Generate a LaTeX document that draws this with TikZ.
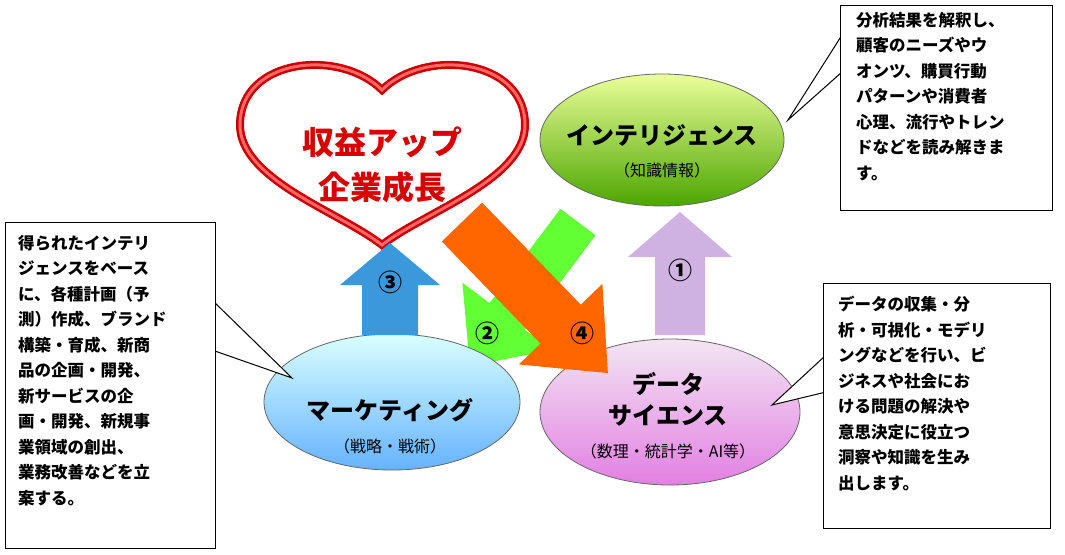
\documentclass[tikz,border=0pt]{standalone}
\usepackage{fontspec}
\setmainfont{Noto Sans CJK JP}
\begin{document}
\begin{tikzpicture}[x=1pt,y=-1pt,
  ell/.style={draw=black!60,line width=0.8pt},
  note/.style={draw=black,fill=white,line width=1pt},
  ntxt/.style={anchor=north west,align=left,font=\fontsize{16.5}{25.5}\selectfont\bfseries,inner sep=0pt},
  big/.style={font=\fontsize{24}{28}\selectfont\bfseries},
  small/.style={font=\fontsize{16}{20}\selectfont},
  num/.style={font=\fontsize{24}{24}\selectfont\bfseries}]
\useasboundingbox (0,0) rectangle (1065,554);
\newcommand{\fatarr}[8]{% x y angle len w h L color
  \begin{scope}[shift={(#1,#2)},rotate=#3]
  \fill[#8] (0,-#5)--(#4-#7,-#5)--(#4-#7,-#6)--(#4,0)--(#4-#7,#6)--(#4-#7,#5)--(0,#5)--cycle;
  \end{scope}}
% heart
\draw[line width=8pt,red!80!black,fill=white] (382,90) .. controls (340,48) and (240,58) .. (240,125) .. controls (240,180) and (340,212) .. (382,245) .. controls (424,212) and (525,180) .. (525,125) .. controls (525,58) and (424,48) .. (382,90) -- cycle;
\draw[line width=3pt,red!60] (382,90) .. controls (340,48) and (240,58) .. (240,125) .. controls (240,180) and (340,212) .. (382,245) .. controls (424,212) and (525,180) .. (525,125) .. controls (525,58) and (424,48) .. (382,90) -- cycle;
\node[red!85!black,font=\fontsize{32}{36}\selectfont\bfseries] (h1) at (382,142) {収益アップ};
\node[red!85!black,font=\fontsize{32}{36}\selectfont\bfseries] (h2) at (382,187) {企業成長};
% green arrow
\fatarr{578}{222}{-126.9}{180}{22}{56}{62}{green!70!lime!80}
% ellipses
\shade[ell,top color=green!20!yellow!40,bottom color=green!50!black!70!yellow] (662,140) ellipse (122 and 66);
\node[big] (i1) at (662,135) {インテリジェンス};
\node[small] (i2) at (662,170) {（知識情報）};
\shade[ell,top color=cyan!15,bottom color=cyan!50!blue!60] (392,402) ellipse (128 and 68);
\node[big] (m1) at (390,410) {マーケティング};
\node[small] (m2) at (390,446) {（戦略・戦術）};
\shade[ell,top color=violet!10,bottom color=violet!45!magenta!50] (670,412) ellipse (130 and 73);
\node[big] (d1) at (668,384) {データ};
\node[big] (d2) at (668,415) {サイエンス};
\node[small] (d3) at (668,451) {（数理・統計学・AI等）};
% arrows
\fatarr{680}{335}{90}{123}{25}{52}{45}{blue!25!violet!30}
\fatarr{390}{335}{90}{92}{28}{50}{42}{cyan!70!blue!80}
\fatarr{462}{222}{-46}{210}{28}{58}{68}{orange!80!red}
\node[num] (n1) at (680,270) {①};
\node[num] (n2) at (487,333) {②};
\node[num] (n3) at (390,282) {③};
\node[num] (n4) at (582,333) {④};
% notes
\draw[note] (842,35)--(788,120)--(842,72);
\draw[note] (840,5) rectangle (1052,210);
\node[ntxt] (t1) at (856,12) {分析結果を解釈し、\\顧客のニーズやウ\\オンツ、購買行動\\パターンや消費者\\心理、流行やトレン\\ドなどを読み解きま\\す。};
\draw[note] (212,300)--(292,378)--(212,350);
\draw[note] (5,222) rectangle (215,548);
\node[ntxt] (t2) at (18,235) {得られたインテリ\\ジェンスをベース\\に、各種計画（予\\測）作成、ブランド\\構築・育成、新商\\品の企画・開発、\\新サービスの企\\画・開発、新規事\\業領域の創出、\\業務改善などを立\\案する。};
\draw[note] (826,355)--(772,405)--(826,392);
\draw[note] (823,283) rectangle (1050,528);
\node[ntxt] (t3) at (838,296) {データの収集・分\\析・可視化・モデリ\\ングなどを行い、ビ\\ジネスや社会にお\\ける問題の解決や\\意思決定に役立つ\\洞察や知識を生み\\出します。};
\end{tikzpicture}
\end{document}
